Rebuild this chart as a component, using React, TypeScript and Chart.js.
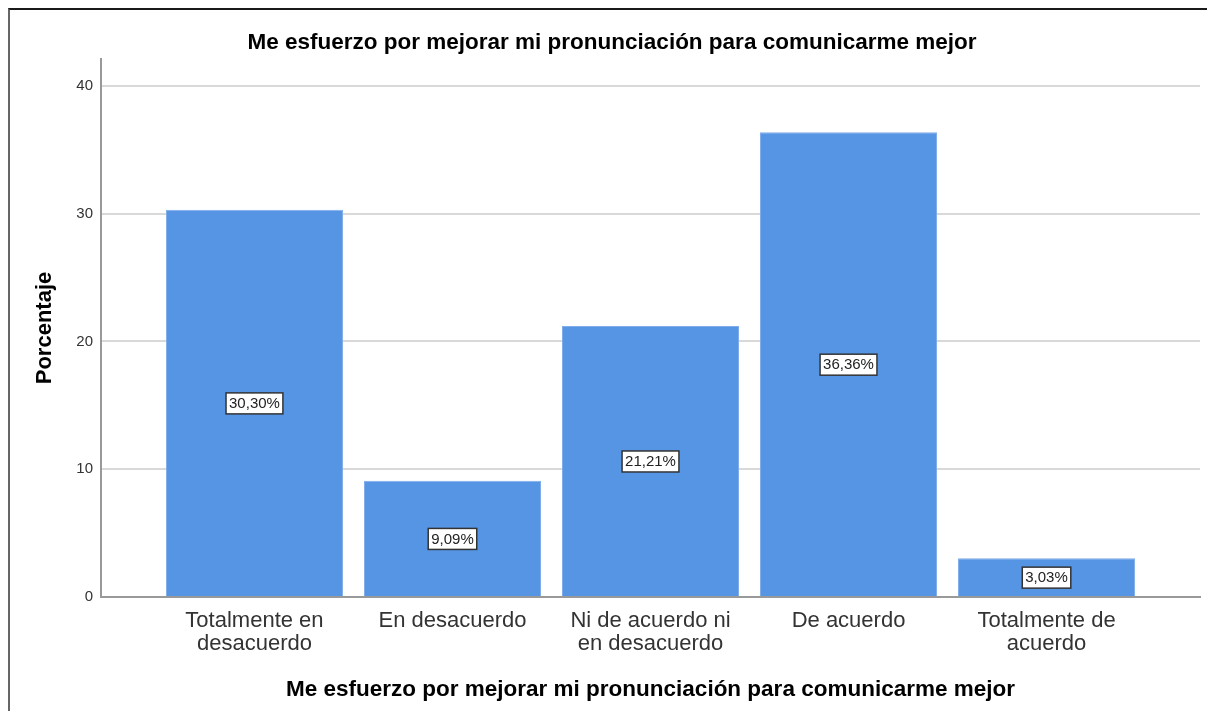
import React, { useEffect, useRef } from "react";
import { Chart, registerables } from "chart.js";

Chart.register(...registerables);

const chartTitle = "Me esfuerzo por mejorar mi pronunciación para comunicarme mejor";
const xAxisTitle = "Me esfuerzo por mejorar mi pronunciación para comunicarme mejor";
const yAxisTitle = "Porcentaje";
const categories: string[][] = [
  ["Totalmente en", "desacuerdo"],
  ["En desacuerdo"],
  ["Ni de acuerdo ni", "en desacuerdo"],
  ["De acuerdo"],
  ["Totalmente de", "acuerdo"],
];
const percentages: number[] = [30.3, 9.09, 21.21, 36.36, 3.03];
const yTicks: number[] = [0, 10, 20, 30, 40];

const FONT = "'Liberation Sans', Arial, sans-serif";

const labelBoxPlugin = {
  id: "labelBoxes",
  afterDatasetsDraw(chart: any) {
    const ctx = chart.ctx;
    const meta = chart.getDatasetMeta(0);
    const yScale = chart.scales.y;
    ctx.save();
    ctx.font = `15px ${FONT}`;
    ctx.textAlign = "center";
    ctx.textBaseline = "middle";
    meta.data.forEach((bar: any, i: number) => {
      const v = percentages[i];
      const text = v.toFixed(2).replace(".", ",") + "%";
      const cx = bar.x;
      const cy = yScale.getPixelForValue(v / 2);
      const w = ctx.measureText(text).width + 6;
      const h = 21;
      ctx.fillStyle = "#ffffff";
      ctx.fillRect(cx - w / 2, cy - h / 2, w, h);
      ctx.strokeStyle = "#333333";
      ctx.lineWidth = 1.5;
      ctx.strokeRect(cx - w / 2, cy - h / 2, w, h);
      ctx.fillStyle = "#222222";
      ctx.fillText(text, cx, cy + 0.5);
    });
    ctx.restore();
  },
};

export default function App() {
  const canvasRef = useRef<HTMLCanvasElement | null>(null);

  useEffect(() => {
    if (!canvasRef.current) return;
    const chart = new Chart(canvasRef.current, {
      type: "bar",
      data: {
        datasets: [
          {
            data: percentages.map((v, i) => ({ x: i, y: v })),
            backgroundColor: "#5695e3",
            borderColor: "#7fadea",
            borderWidth: 1,
            barPercentage: 0.894,
            categoryPercentage: 1,
          },
        ],
      },
      options: {
        animation: false,
        responsive: false,
        layout: { padding: { left: 14, right: 7, top: 0, bottom: 0 } },
        plugins: {
          legend: { display: false },
          tooltip: { enabled: false },
          title: {
            display: true,
            text: chartTitle,
            color: "#000000",
            font: { family: FONT, size: 22.5, weight: "bold" },
            padding: { top: 19.5, bottom: 2.5 },
          },
        },
        scales: {
          x: {
            type: "linear",
            offset: false,
            min: -0.775,
            max: 4.775,
            afterBuildTicks: (scale: any) => {
              scale.ticks = categories.map((_, i) => ({ value: i }));
            },
            afterFit: (scale: any) => {
              scale.height = 114;
            },
            grid: { display: false, drawTicks: false, offset: false },
            border: { display: true, color: "#999999", width: 2 },
            ticks: {
              autoSkip: false,
              maxRotation: 0,
              minRotation: 0,
              padding: 12,
              color: "#333333",
              font: { family: FONT, size: 22, lineHeight: 1.05 },
              callback: (value: any) => {
                const idx = Math.round(Number(value));
                return categories[idx] ?? "";
              },
            },
            title: {
              display: true,
              text: xAxisTitle,
              color: "#000000",
              font: { family: FONT, size: 22.5, weight: "bold" },
              padding: { top: 0, bottom: 8 },
            },
          },
          y: {
            min: 0,
            max: 42.1,
            afterBuildTicks: (scale: any) => {
              scale.ticks = yTicks.map((v) => ({ value: v }));
            },
            afterFit: (scale: any) => {
              scale.width = 77;
            },
            grid: { color: "#d9d9d9", lineWidth: 2, drawTicks: false },
            border: { display: true, color: "#999999", width: 2 },
            ticks: {
              padding: 8,
              color: "#333333",
              font: { family: FONT, size: 15 },
            },
            title: {
              display: true,
              text: yAxisTitle,
              color: "#000000",
              font: { family: FONT, size: 22, weight: "bold" },
              padding: { top: 8, bottom: 0 },
            },
          },
        },
      },
      plugins: [labelBoxPlugin],
    } as any);
    return () => chart.destroy();
  }, []);

  return (
    <div
      style={{
        position: "fixed",
        top: 8,
        left: 8,
        width: 1197,
        height: 701,
        borderTop: "2px solid #1a1a1a",
        borderLeft: "2px solid #666666",
        background: "#ffffff",
      }}
    >
      <canvas ref={canvasRef} width={1197} height={701} style={{ display: "block" }} />
    </div>
  );
}
